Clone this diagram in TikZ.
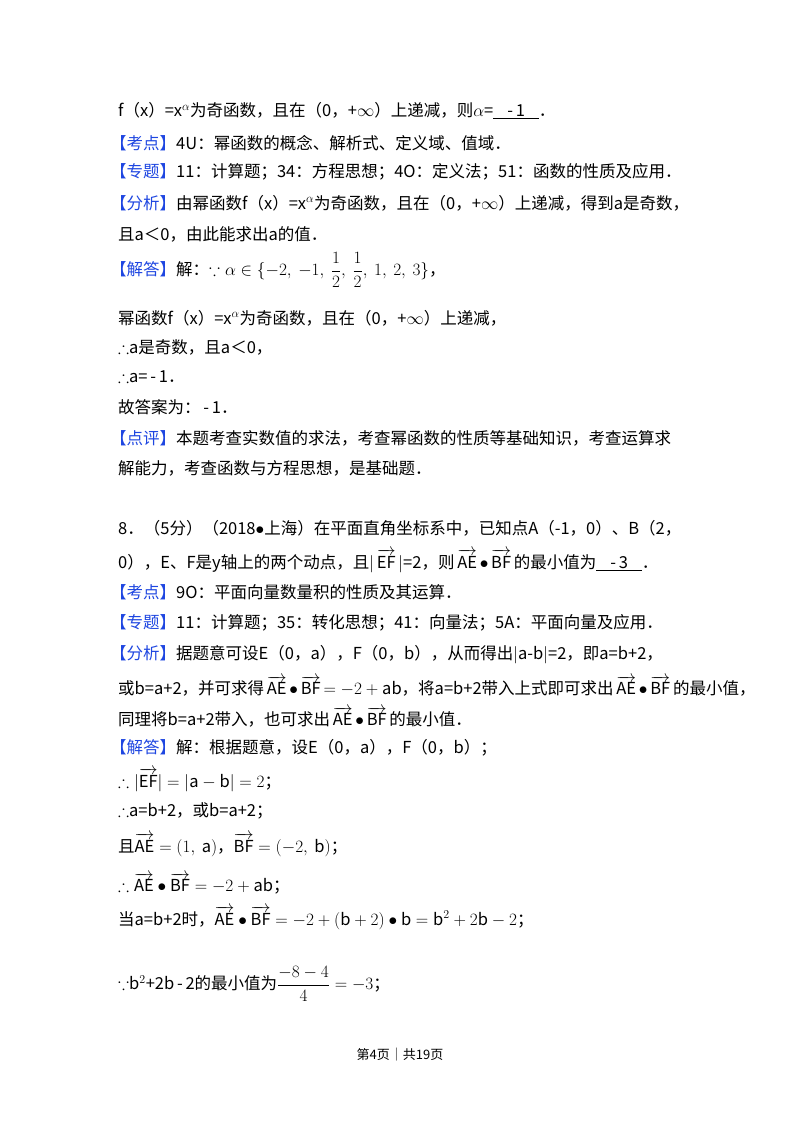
\documentclass[tikz,border=0pt]{standalone}
\usepackage{fontspec}
\usepackage{amsmath,amssymb}
\setmainfont{Noto Sans CJK SC}
\definecolor{tagblue}{RGB}{30,70,225}
\newcommand{\tg}[1]{\textcolor{tagblue}{【#1】}}
\newcommand{\vc}[1]{\,$\overrightarrow{\mathrm{#1}}$\,}
\begin{document}
\begin{tikzpicture}[x=1pt,y=-1pt,every node/.style={anchor=west,inner sep=0pt,font=\fontsize{16.5}{19}\selectfont}]
\useasboundingbox[fill=white] (0,0) rectangle (800,1132);
\node (a1) at (118,111) {f（x）=x$^{\alpha}$为奇函数，且在（0，+$\infty$）上递减，则$\alpha$=\underline{\hspace{14pt}-\,1\hspace{14pt}}．};
\node (a2) at (110,143) {\tg{考点}4U：幂函数的概念、解析式、定义域、值域．};
\node (a3) at (110,172) {\tg{专题}11：计算题；34：方程思想；4O：定义法；51：函数的性质及应用．};
\node (a4) at (110,203) {\tg{分析}由幂函数f（x）=x$^{\alpha}$为奇函数，且在（0，+$\infty$）上递减，得到a是奇数，};
\node (a5) at (118,234) {且a＜0，由此能求出a的值．};
\node (a6) at (110,270) {\tg{解答}解：$\because\alpha\in\{-2,\ -1,\ \dfrac12,\ \dfrac12,\ 1,\ 2,\ 3\}$，};
\node (a7) at (118,318) {幂函数f（x）=x$^{\alpha}$为奇函数，且在（0，+$\infty$）上递减，};
\node (a8) at (118,347) {$\therefore$a是奇数，且a＜0，};
\node (a9) at (118,377) {$\therefore$a=\,-\,1．};
\node (a10) at (118,407) {故答案为：\,-\,1．};
\node (a11) at (110,438) {\tg{点评}本题考查实数值的求法，考查幂函数的性质等基础知识，考查运算求};
\node (a12) at (118,468) {解能力，考查函数与方程思想，是基础题．};
\node (b1) at (118,528) {8．（5分）（2018$\bullet$上海）在平面直角坐标系中，已知点A（-1，0）、B（2，};
\node (b2) at (118,561) {0），E、F是y轴上的两个动点，且$|$\vc{EF}$|$=2，则\vc{AE}$\bullet$\vc{BF}的最小值为\underline{\hspace{14pt}-\,3\hspace{14pt}}．};
\node (b3) at (110,592) {\tg{考点}9O：平面向量数量积的性质及其运算．};
\node (b4) at (110,623) {\tg{专题}11：计算题；35：转化思想；41：向量法；5A：平面向量及应用．};
\node (b5) at (110,655) {\tg{分析}据题意可设E（0，a），F（0，b），从而得出$|$a-b$|$=2，即a=b+2，};
\node (b6) at (118,686) {或b=a+2，并可求得\vc{AE}$\bullet$\vc{BF}$=-2+\mathrm{ab}$，将a=b+2带入上式即可求出\vc{AE}$\bullet$\vc{BF}的最小值，};
\node (b7) at (118,717) {同理将b=a+2带入，也可求出\vc{AE}$\bullet$\vc{BF}的最小值．};
\node (b8) at (110,748) {\tg{解答}解：根据题意，设E（0，a），F（0，b）；};
\node (b9) at (118,780) {$\therefore|\overrightarrow{\mathrm{EF}}|=|\mathrm{a}-\mathrm{b}|=2$；};
\node (b10) at (118,811) {$\therefore$a=b+2，或b=a+2；};
\node (b11) at (118,845) {且$\overrightarrow{\mathrm{AE}}=(1,\ \mathrm{a})$，$\overrightarrow{\mathrm{BF}}=(-2,\ \mathrm{b})$；};
\node (b12) at (118,884) {$\therefore\overrightarrow{\mathrm{AE}}\bullet\overrightarrow{\mathrm{BF}}=-2+\mathrm{ab}$；};
\node (b13) at (118,918) {当a=b+2时，$\overrightarrow{\mathrm{AE}}\bullet\overrightarrow{\mathrm{BF}}=-2+(\mathrm{b}+2)\bullet\mathrm{b}=\mathrm{b}^2+2\mathrm{b}-2$；};
\node (b14) at (118,984) {$\because$b$^2$+2b\,-\,2的最小值为$\dfrac{-8-4}{4}=-3$；};
\node[anchor=center,font=\fontsize{13}{15}\selectfont] (ft) at (400,1055) {第4页｜共19页};
\end{tikzpicture}
\end{document}
